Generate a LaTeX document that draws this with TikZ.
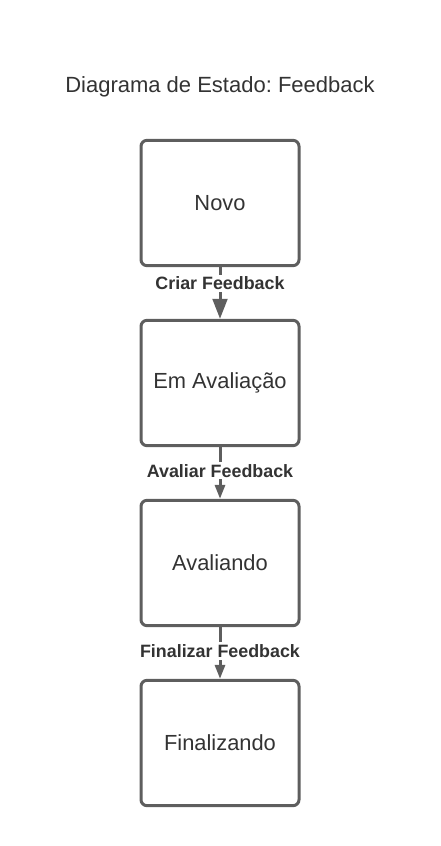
\documentclass[tikz,border=0pt]{standalone}
\usepackage{fontspec}
\setmainfont{Liberation Sans}
\frenchspacing
\usetikzlibrary{arrows.meta}
\definecolor{boxgray}{RGB}{94,94,94}
\definecolor{textgray}{RGB}{51,51,51}
\tikzset{
  estado/.style={draw=boxgray, line width=2.25pt, rounded corners=4.5pt, minimum width=118.5pt, minimum height=94pt, text=textgray, font=\fontsize{16.4}{20}\selectfont},
  transicao/.style={draw=boxgray, line width=2.25pt},
  rotulo/.style={fill=white, text=textgray, inner sep=1.5pt, font=\fontsize{13.4}{16}\selectfont\bfseries},
}
\begin{document}
\begin{tikzpicture}[x=0.75pt,y=0.75pt,yscale=-1,xscale=1]
    \useasboundingbox (0,0) rectangle (440,846);
    % Text Node
    \node (titulo) at (220,87) [text=textgray, font=\fontsize{16.5}{20}\selectfont] {Diagrama de Estado: Feedback};
    %Shape: Rectangle
    \node (novo) at (220,203) [estado] {Novo};
    %Shape: Rectangle
    \node (emavaliacao) at (220,383) [estado] {Em Avaliação};
    %Shape: Rectangle
    \node (avaliando) at (220,563) [estado] {Avaliando};
    %Shape: Rectangle
    \node (finalizando) at (220,743) [estado] {Finalizando};
    %Straight Lines
    \draw [transicao, -{Triangle[length=15pt, width=11pt]}] (novo) -- node[rotulo, pos=0.31] {Criar Feedback} (emavaliacao);
    %Straight Lines
    \draw [transicao, -{Triangle[length=10.5pt, width=7.5pt]}] (emavaliacao) -- node[rotulo, pos=0.46] {Avaliar Feedback} (avaliando);
    %Straight Lines
    \draw [transicao, -{Triangle[length=10.5pt, width=7.5pt]}] (avaliando) -- node[rotulo, pos=0.46] {Finalizar Feedback} (finalizando);
\end{tikzpicture}
\end{document}
